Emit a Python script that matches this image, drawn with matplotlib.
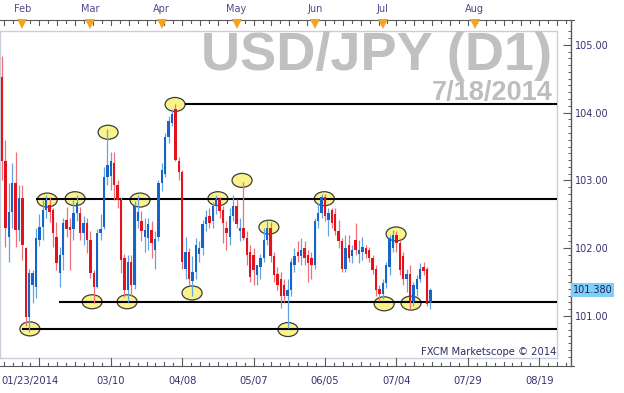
import matplotlib
matplotlib.use("Agg")
import matplotlib.pyplot as plt
from matplotlib.patches import Ellipse
from matplotlib.transforms import blended_transform_factory
import numpy as np

# ---------------- data ----------------
opens = [104.53, 103.29, 102.17, 102.54, 102.96, 102.27, 102.74, 102.00, 100.99, 101.45,
         101.43, 102.12, 102.32, 102.56, 102.64, 102.56, 102.17, 101.63, 101.90, 102.42,
         102.32, 102.29, 102.52, 102.52, 102.22, 102.37, 102.12, 101.63, 101.43, 102.22,
         102.32, 103.05, 103.06, 103.25, 102.93, 102.71, 101.85, 101.38, 101.80, 101.45,
         102.40, 102.40, 102.17, 102.15, 102.27, 101.97, 102.17, 102.96, 103.10, 103.64,
         103.85, 104.05, 103.28, 103.12, 101.70, 101.95, 101.52, 101.65, 101.92, 102.00,
         102.36, 102.47, 102.40, 102.62, 102.72, 102.56, 102.30, 102.17, 102.47, 102.62,
         102.25, 102.30, 102.15, 101.95, 101.90, 101.60, 101.72, 101.85, 102.12, 102.30,
         101.88, 101.62, 101.55, 101.45, 101.30, 101.38, 101.75, 101.95, 101.88, 102.00,
         101.90, 101.85, 101.75, 102.40, 102.52, 102.75, 102.42, 102.56, 102.50, 102.25,
         102.10, 101.70, 102.05, 101.88, 102.12, 101.92, 101.95, 102.00, 101.97, 101.85,
         101.70, 101.40, 101.32, 101.48, 101.72, 102.00, 102.20, 102.07, 101.88, 101.55,
         101.62, 101.22, 101.40, 101.55, 101.72, 101.70, 101.20]
highs = [104.83, 103.60, 102.96, 103.25, 103.42, 102.93, 102.93, 102.02, 101.70, 101.68,
         102.30, 102.51, 102.71, 102.78, 102.75, 102.60, 102.39, 102.02, 102.44, 102.61,
         102.44, 102.71, 102.78, 102.61, 102.47, 102.44, 102.25, 101.68, 102.29, 102.51,
         103.20, 103.76, 103.42, 103.42, 103.00, 102.76, 101.92, 101.90, 101.90, 102.70,
         102.78, 102.55, 102.45, 102.45, 102.40, 102.25, 103.00, 103.25, 103.70, 103.95,
         104.05, 104.13, 103.35, 103.15, 102.17, 102.00, 101.88, 102.15, 102.10, 102.42,
         102.56, 102.60, 102.68, 102.78, 102.76, 102.62, 102.40, 102.60, 102.78, 102.72,
         102.45, 102.97, 102.25, 102.05, 102.00, 101.75, 101.92, 102.30, 102.42, 102.38,
         101.95, 101.72, 101.65, 101.55, 101.55, 101.85, 102.00, 102.10, 102.15, 102.10,
         101.97, 101.95, 102.45, 102.65, 102.80, 102.80, 102.60, 102.60, 102.60, 102.42,
         102.15, 102.20, 102.20, 102.05, 102.37, 102.12, 102.17, 102.05, 102.02, 101.90,
         101.75, 101.45, 101.55, 101.80, 102.20, 102.27, 102.25, 102.12, 101.95, 101.70,
         101.75, 101.50, 101.60, 101.78, 101.80, 101.72, 101.42]
lows = [103.01, 102.02, 101.80, 102.30, 102.02, 102.10, 101.83, 100.85, 100.76, 101.19,
        101.26, 102.03, 102.12, 102.45, 102.38, 102.02, 101.68, 101.43, 101.68, 102.17,
        101.68, 102.12, 102.40, 102.12, 102.05, 101.93, 101.56, 101.19, 101.41, 102.12,
        102.29, 102.93, 102.86, 102.71, 102.60, 101.63, 101.28, 101.20, 101.30, 101.40,
        102.30, 102.10, 101.95, 101.98, 101.85, 101.70, 102.10, 102.85, 103.05, 103.55,
        103.80, 103.28, 103.00, 101.70, 101.55, 101.45, 101.30, 101.55, 101.80, 101.90,
        102.25, 102.30, 102.30, 102.50, 102.45, 102.07, 101.97, 102.05, 102.40, 102.30,
        102.10, 102.12, 101.75, 101.50, 101.45, 101.45, 101.55, 101.80, 102.05, 101.80,
        101.50, 101.38, 101.12, 101.20, 100.82, 101.30, 101.65, 101.80, 101.75, 101.75,
        101.50, 101.55, 101.70, 102.30, 102.45, 102.40, 102.18, 102.30, 102.20, 102.00,
        101.65, 101.65, 101.80, 101.78, 101.90, 101.78, 101.82, 101.85, 101.80, 101.62,
        101.30, 101.22, 101.25, 101.42, 101.60, 101.95, 101.95, 101.60, 101.45, 101.35,
        101.10, 101.15, 101.30, 101.50, 101.60, 101.15, 101.10]
closes = [103.29, 102.30, 102.54, 102.96, 102.27, 102.74, 102.05, 100.99, 101.63, 101.63,
          102.15, 102.32, 102.56, 102.71, 102.54, 102.22, 101.78, 101.90, 102.37, 102.29,
          102.27, 102.52, 102.66, 102.22, 102.37, 102.12, 101.63, 101.43, 102.22, 102.29,
          103.05, 103.22, 103.28, 102.93, 102.71, 101.83, 101.38, 101.80, 101.45, 102.62,
          102.53, 102.25, 102.27, 102.35, 102.07, 102.13, 102.96, 103.15, 103.64, 103.88,
          103.98, 103.30, 103.12, 101.80, 101.95, 101.55, 101.65, 102.05, 102.00, 102.36,
          102.46, 102.37, 102.62, 102.72, 102.55, 102.37, 102.22, 102.47, 102.62, 102.35,
          102.30, 102.15, 101.90, 101.58, 101.68, 101.75, 101.85, 102.12, 102.30, 101.88,
          101.60, 101.45, 101.30, 101.30, 101.38, 101.80, 101.88, 101.88, 101.98, 101.85,
          101.78, 101.75, 102.40, 102.52, 102.75, 102.48, 102.52, 102.37, 102.25, 102.10,
          101.70, 102.00, 101.85, 101.97, 101.97, 101.98, 102.02, 101.92, 101.85, 101.68,
          101.38, 101.32, 101.48, 101.75, 102.15, 102.20, 102.07, 101.68, 101.55, 101.62,
          101.22, 101.45, 101.55, 101.70, 101.66, 101.18, 101.38]

last_price = 101.38
levels = [104.13, 102.73, 101.21, 100.81]
level_start_bars = [53.8, 10.0, 16.8, 5.9]

ellipse_bars = [8.2, 13.3, 21.5, 26.5, 31.2, 36.8, 40.6, 50.9, 55.9, 63.5,
                70.6, 78.5, 84.1, 94.8, 112.4, 115.9, 120.3]
ellipse_prices = [100.81, 102.71, 102.73, 101.21, 103.71, 101.21, 102.71, 104.12, 101.34, 102.73,
                  103.00, 102.31, 100.80, 102.73, 101.18, 102.21, 101.19]

y_ticks = [101, 102, 103, 104, 105]
y_tick_labels = ["101.00", "102.00", "103.00", "104.00", "105.00"]
x_tick_bars = [11, 32, 53, 74, 95, 116, 137, 158]
x_tick_labels = ["01/23/2014", "03/10", "04/08", "05/07", "06/05", "07/04", "07/29", "08/19"]
month_bars = [6, 26, 47, 69, 92, 112, 139]
month_labels = ["Feb", "Mar", "Apr", "May", "Jun", "Jul", "Aug"]

# ---------------- layout helpers ----------------
W, H, DPI = 624, 393, 100
fig = plt.figure(figsize=(W / DPI, H / DPI), dpi=DPI)
fig.patch.set_facecolor("white")


def axes_px(l, t, r, b):
    return fig.add_axes([l / W, 1 - b / H, (r - l) / W, (b - t) / H])


def price_at(py):
    return 101 + (316 - py) / 67.8


def bar_at(px):
    return (px - 2) / 3.4


def fy(py):
    return 1 - py / H


LABEL_C = "#35356f"
RULER_C = "#5a5a5a"
RULER_Y = 366

# ---------------- main chart ----------------
ax = axes_px(0, 31, 557, 358)
ax.set_xlim(bar_at(0), bar_at(557))
ax.set_ylim(price_at(358), price_at(31))
ax.set_xticks([])
ax.set_yticks([])
for s in ax.spines.values():
    s.set_color("#c9cedb")
    s.set_linewidth(1.0)

# ellipses
ell_w = 20 / 3.4
ell_h = 14 / 67.8
for b, p in zip(ellipse_bars, ellipse_prices):
    ax.add_patch(Ellipse((b, p), ell_w, ell_h, facecolor="#faf38a",
                         edgecolor="#3c3c3c", linewidth=0.9, zorder=2))

# support / resistance lines
xmax = bar_at(557)
ax.hlines(levels, level_start_bars, xmax, colors="black", linewidth=1.5, zorder=3)

# candles
o = np.array(opens)
h = np.array(highs)
l = np.array(lows)
c = np.array(closes)
x = np.arange(len(o))
up = c >= o
body_col = np.where(up, "#1565c8", "#e3121b")
wick_col = np.where(up, "#62a4e6", "#f0707a")
ax.vlines(x, l, h, colors=wick_col, linewidth=0.9, zorder=4)
body_h = np.maximum(np.abs(c - o), 0.025)
ax.bar(x, body_h, bottom=np.minimum(o, c), width=0.7, color=body_col,
       linewidth=0, zorder=5)

# ---------------- right price axis ----------------
axr = axes_px(557, 20, 571, RULER_Y)
axr.set_ylim(price_at(RULER_Y), price_at(20))
axr.set_xlim(0, 1)
axr.patch.set_visible(False)
for k in ["left", "top", "bottom"]:
    axr.spines[k].set_visible(False)
axr.spines["right"].set_color(RULER_C)
axr.spines["right"].set_linewidth(1.0)
axr.set_xticks([])
axr.yaxis.tick_right()
axr.set_yticks(y_ticks)
axr.set_yticklabels(y_tick_labels)
axr.set_yticks(np.arange(100.4, 105.25, 0.1), minor=True)
axr.tick_params(axis="y", which="major", direction="in", length=5.5, width=0.8,
                color=RULER_C, labelsize=7, labelcolor=LABEL_C, pad=2.5)
axr.tick_params(axis="y", which="minor", direction="in", length=2.5, width=0.7,
                color=RULER_C)
tr = blended_transform_factory(axr.transAxes, axr.transData)
axr.text(1.12, last_price, f"{last_price:.3f}", transform=tr, ha="left", va="center",
         fontsize=7, color="#1d1d5c",
         bbox=dict(boxstyle="square,pad=0.18", facecolor="#7fd0f8", edgecolor="none"))

# ---------------- bottom ruler ----------------
axb = axes_px(0, 357, 574, RULER_Y)
axb.set_xlim(bar_at(0), bar_at(574))
axb.set_ylim(0, 1)
axb.patch.set_visible(False)
for k in ["left", "top", "right"]:
    axb.spines[k].set_visible(False)
axb.spines["bottom"].set_color(RULER_C)
axb.set_xticks([])
axb.set_yticks([])
trb = blended_transform_factory(axb.transData, axb.transAxes)
minor_b = np.arange(x_tick_bars[0] - 21, x_tick_bars[-1] + 8, 21 / 8)
for k, mb in enumerate(minor_b):
    ln = 0.3 if k % 2 else 0.5
    if k % 8 == 0:
        ln = 0.85
    axb.plot([mb, mb], [0, ln], color=RULER_C, linewidth=0.8, transform=trb,
             clip_on=False)
trl = blended_transform_factory(axb.transData, fig.transFigure)
for xb, lab in zip(x_tick_bars, x_tick_labels):
    if lab == x_tick_labels[0]:
        fig.text(1 / W, fy(381), lab, ha="left", va="center", fontsize=7.2, color=LABEL_C)
    else:
        axb.text(xb, fy(381), lab, transform=trl, ha="center", va="center",
                 fontsize=7.2, color=LABEL_C)

# ---------------- top ruler ----------------
axt = axes_px(0, 20, 574, 31)
axt.set_xlim(bar_at(0), bar_at(574))
axt.set_ylim(0, 1)
axt.patch.set_visible(False)
for k in ["left", "bottom", "right"]:
    axt.spines[k].set_visible(False)
axt.spines["top"].set_color(RULER_C)
axt.set_xticks([])
axt.set_yticks([])
trt = blended_transform_factory(axt.transData, axt.transAxes)
for k, mb in enumerate(minor_b):
    ln = 0.27 if k % 2 else 0.45
    axt.plot([mb, mb], [1, 1 - ln], color=RULER_C, linewidth=0.8, transform=trt,
             clip_on=False)
axt.plot(month_bars, [0.62] * len(month_bars), linestyle="none", marker="v",
         markersize=6.5, color="#f5a31e", markeredgewidth=0, transform=trt,
         clip_on=False, zorder=5)
trm = blended_transform_factory(axt.transData, fig.transFigure)
for mb, lab in zip(month_bars, month_labels):
    axt.text(mb, fy(9), lab, transform=trm, ha="center", va="center", fontsize=7,
             color="#4d4a8c")

# ---------------- watermark texts ----------------
fig.text(552 / W, fy(70), "USD/JPY (D1)", ha="right", va="baseline",
         fontsize=39, fontweight="bold", family="Liberation Sans", color="#c0c0c0")
fig.text(553 / W, fy(100), "7/18/2014", ha="right", va="baseline",
         fontsize=19.5, fontweight="bold", family="Liberation Sans", color="#bdbdbd")
fig.text(556 / W, fy(352), "FXCM Marketscope \u00a9 2014", ha="right", va="center",
         fontsize=7.2, color="#2e2e66")

fig.savefig("out.png", dpi=DPI, facecolor="white")
